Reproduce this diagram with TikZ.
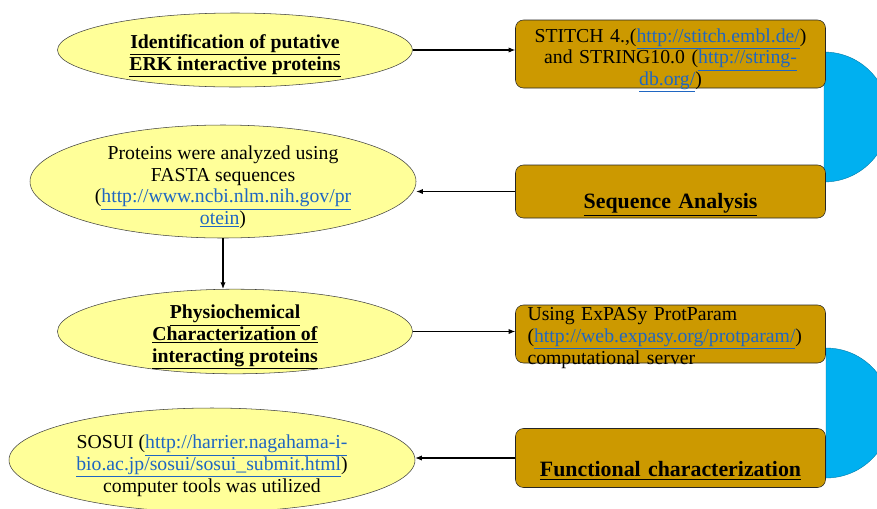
\documentclass[tikz,border=0pt]{standalone}
\usepackage{fontspec}
\setmainfont{Liberation Serif}
\usetikzlibrary{shapes.geometric}
\usetikzlibrary{arrows.meta}
\usetikzlibrary{calc,positioning}

\definecolor{amarillo}{HTML}{FFFF99}
\definecolor{ocre}{HTML}{CC9900}
\definecolor{celeste}{HTML}{00B0F0}
\definecolor{azulenlace}{HTML}{1F66C2}
\newcommand{\enlace}[1]{\textcolor{azulenlace}{\underline{#1}}}
\newcommand{\titulo}[1]{\underline{\textbf{#1}}}
\newcommand{\arriba}[1][19pt]{\rule{0pt}{#1}}

\tikzset{
	elipse/.style={ellipse, draw=black!75, fill=amarillo, inner sep=-6pt, align=center,
		font=\fontsize{14.8}{16.3}\selectfont},
	caja/.style={rectangle, rounded corners=6pt, draw=black!85, fill=ocre,
		minimum width=232.5pt, minimum height=#1, inner xsep=9pt, inner ysep=-6pt,
		text width=214.5pt, align=center, font=\fontsize{14.8}{16.3}\selectfont},
	flecha/.style={-{Latex[length=5pt,width=4pt]}, line width=0.8pt},
}

\begin{document}
\begin{tikzpicture}[x=0.75pt,y=-0.75pt]
	\clip (0,0) rectangle (877,508);

% semicirculos
	\filldraw[fill=celeste, draw=celeste!70!black, line width=0.3pt]
		(824,52) arc[start angle=90, end angle=-90, radius=48.75pt] -- cycle;
	\filldraw[fill=celeste, draw=celeste!70!black, line width=0.3pt]
		(826,348) arc[start angle=90, end angle=-90, radius=48.75pt] -- cycle;

% elipses
	\node[elipse, minimum width=266.25pt, minimum height=55.5pt] (e1) at (235,50)
		{\arriba\titulo{Identification of putative}\\ \titulo{ERK interactive proteins}};
	\node[elipse, minimum width=289.5pt, minimum height=84.75pt] (e2) at (223,181.5)
		{\arriba Proteins were analyzed using\\ FASTA sequences\\
		 (\enlace{http://www.ncbi.nlm.nih.gov/pr}\\ \enlace{otein})};
	\node[elipse, minimum width=266.25pt, minimum height=56.25pt] (e3) at (235,331.5)
		{\arriba\titulo{Physiochemical}\\ \titulo{Characterization of}\\ \titulo{interacting proteins}};
	\node[elipse, minimum width=304.5pt, minimum height=78pt] (e4) at (212,460)
		{\arriba SOSUI (\enlace{http://harrier.nagahama-i-}\\
		 \enlace{bio.ac.jp/sosui/sosui\_submit.html})\\ computer tools was utilized};

% cajas
	\node[caja=51pt] (b1) at (670.5,54)
		{\arriba[20pt]STITCH 4.,(\enlace{http://stitch.embl.de/})\\ and STRING10.0 (\enlace{http://string-}\\
		 \enlace{db.org/})};
	\node[caja=39.75pt, font=\fontsize{16.4}{18}\selectfont] (b2) at (670.5,191.5)
		{\strut\\ \titulo{Sequence Analysis}};
	\node[caja=43.5pt, align=left] (b3) at (670.5,334)
		{\arriba[16pt]Using ExPASy ProtParam\\ (\enlace{http://web.expasy.org/protparam/})\\ computational server};
	\node[caja=44.25pt, font=\fontsize{16.4}{18}\selectfont] (b4) at (670.5,458)
		{\strut\\ \titulo{Functional characterization}};

% flechas
	\draw[flecha] (e1.east) -- (e1.east -| b1.west);
	\draw[flecha] (b2.west) -- (b2.west -| e2.east);
	\draw[flecha] (e2.south) -- (e2.south |- e3.north);
	\draw[flecha] (e3.east) -- (e3.east -| b3.west);
	\draw[flecha] (b4.west) -- (b4.west -| e4.east);
\end{tikzpicture}
\end{document}
